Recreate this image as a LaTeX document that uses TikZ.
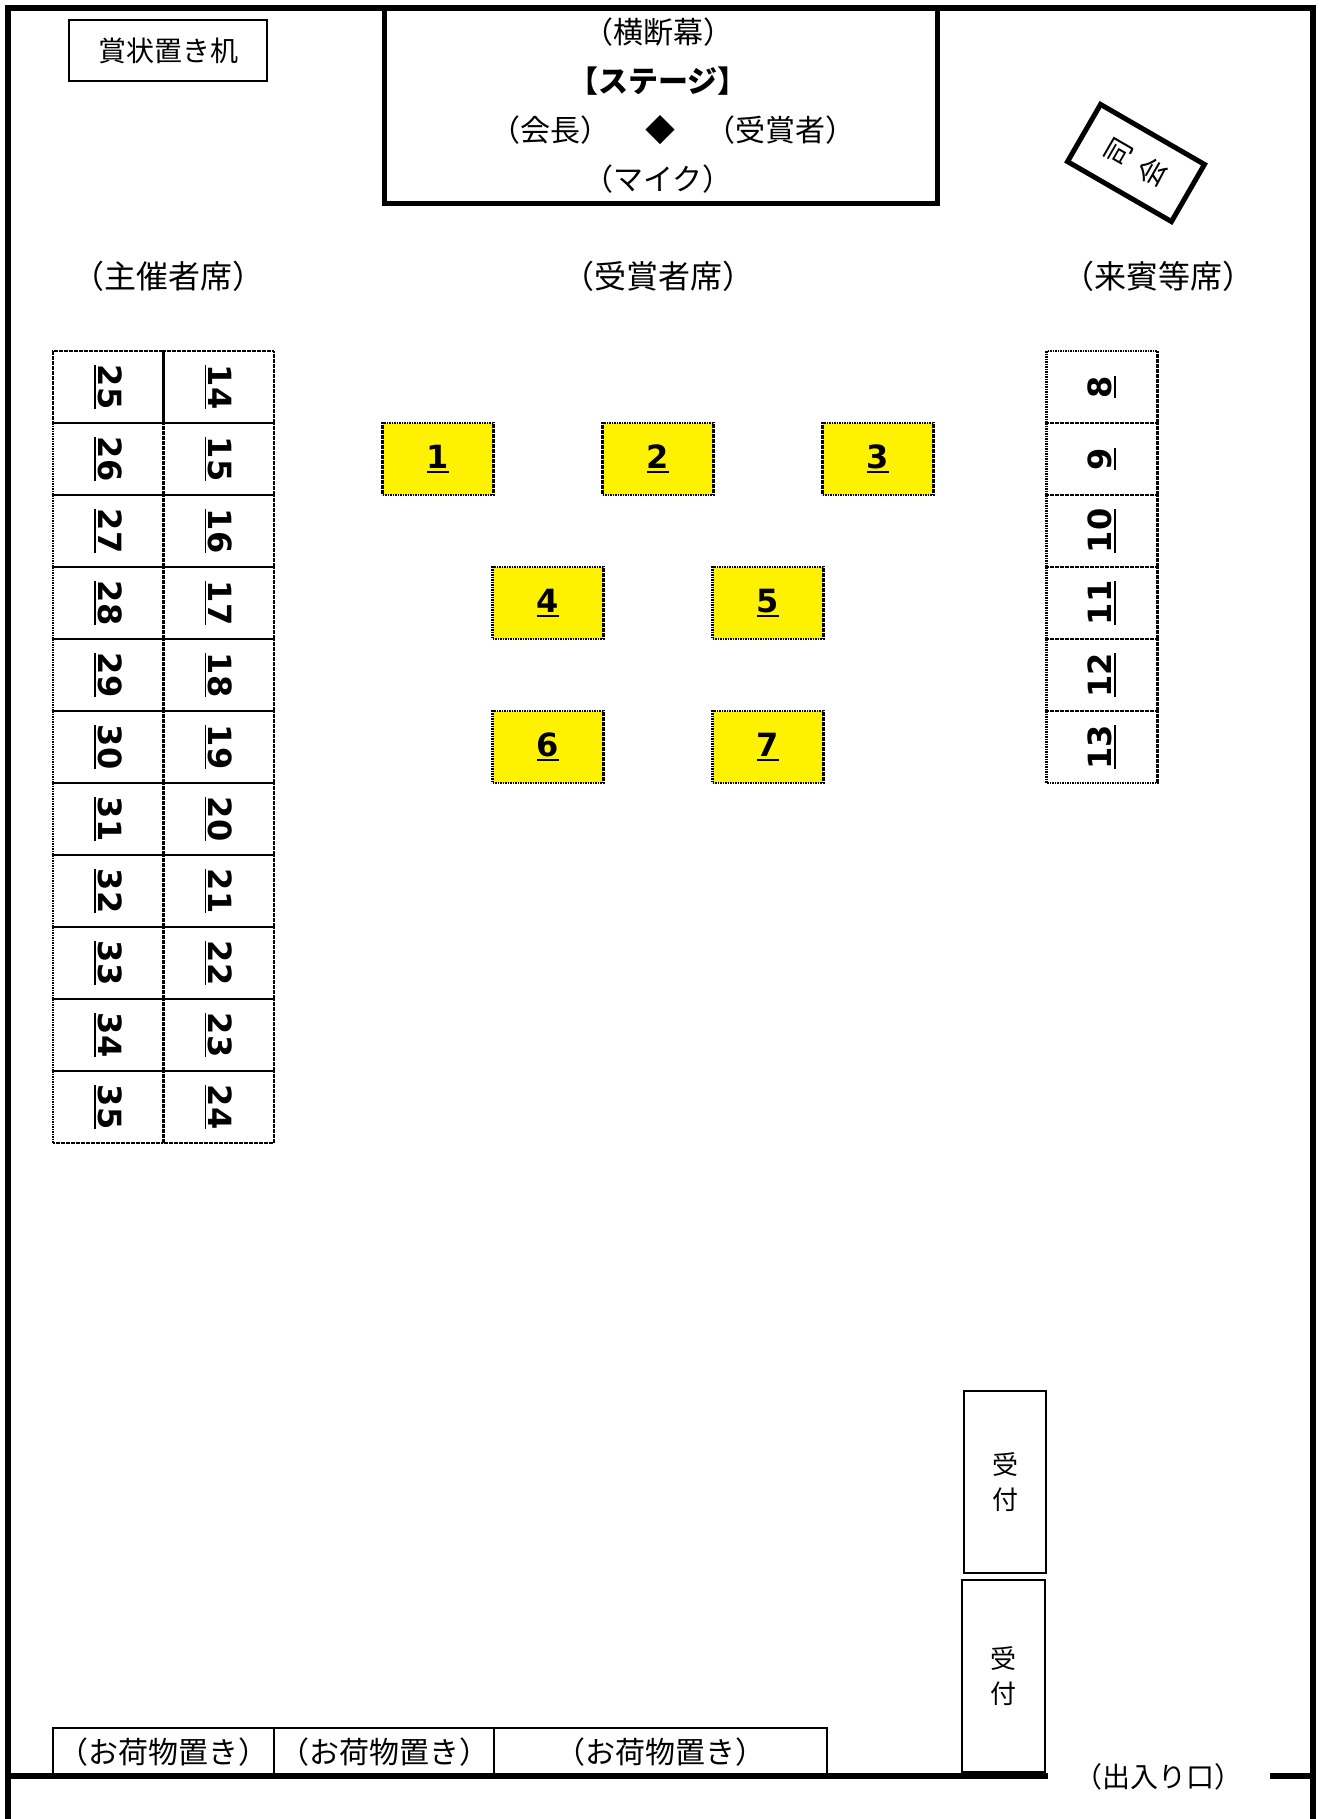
\documentclass[tikz,border=0pt]{standalone}
\usepackage{fontspec}
\setmainfont{Noto Sans CJK JP}
\newfontfamily\numf{DejaVu Sans}
\newcommand\ulg[1]{\sbox0{#1}\rlap{\rule[-1.9pt]{\wd0}{0.65pt}}\usebox0}
\newcommand\uly[1]{\sbox0{#1}\rlap{\rule[-2.3pt]{\wd0}{1pt}}\usebox0}
\begin{document}
\begin{tikzpicture}[x=0.5pt,y=-0.5pt,
  wall/.style={line width=3pt},
  seatbox/.style={draw, line width=1.4pt, dash pattern=on 0.8pt off 0.45pt, inner sep=0pt, outer sep=0pt, font=\numf\bfseries\fontsize{16}{16}\selectfont},
  gseatL/.style={seatbox, rotate=-90, minimum width=36pt, minimum height=55.25pt},
  gseatR/.style={seatbox, rotate=90, minimum width=36pt, minimum height=55.25pt},
  yseat/.style={seatbox, fill=yellow, minimum width=55.25pt, minimum height=36pt},
  lbl/.style={inner sep=0pt, font=\fontsize{15}{18}\selectfont},
  sect/.style={inner sep=0pt, font=\fontsize{16}{18}\selectfont},
  thinbox/.style={draw, line width=1.25pt, inner sep=0pt, outer sep=0pt},
]
\useasboundingbox (0,0) rectangle (1319,1819);

% stage
\node[draw, line width=2.5pt, minimum width=276.25pt, minimum height=97.75pt, inner sep=0pt, outer sep=0pt] (stage) at (660.75,105.75) {};
\node[lbl] (banner) at (658,32) {（横断幕）};
\node[lbl, font=\bfseries\fontsize{15}{18}\selectfont] (stagettl) at (658,81) {【ステージ】};
\node[lbl] (chair) at (550,130) {（会長）};
\node[lbl] (dia) at (660,130) {◆};
\node[lbl] (winner) at (780,130) {（受賞者）};
\node[lbl] (mic) at (658,179) {（マイク）};

% desk
\node[draw, line width=0.75pt, minimum width=99pt, minimum height=30.5pt, inner sep=0pt, outer sep=0pt, font=\fontsize{14}{16}\selectfont] (desk) at (168,50.5) {賞状置き机};

% MC
\node[draw, line width=2.5pt, rotate=60, minimum width=33pt, minimum height=60pt, inner sep=0pt, align=center, font=\fontsize{14}{20}\selectfont] (mc) at (1136,163) {司\\会};

% section labels
\node[sect] (host) at (168,276) {（主催者席）};
\node[sect] (award) at (658,276) {（受賞者席）};
\node[sect] (guest) at (1158,276) {（来賓等席）};

% organiser seats
\foreach \n [count=\i from 0] in {25,26,...,35}
  \node[gseatL] (s\n) at (108.25,{387+72*\i}) {\ulg{\n}};
\foreach \n [count=\i from 0] in {14,15,...,24}
  \node[gseatL] (s\n) at (218.75,{387+72*\i}) {\ulg{\n}};
% guest seats
\foreach \n [count=\i from 0] in {8,9,...,13}
  \node[gseatR] (s\n) at (1102,{387+72*\i}) {\ulg{\n}};

% award seats
\node[yseat] (s1) at (438,459) {\uly{1}};
\node[yseat] (s2) at (658,459) {\uly{2}};
\node[yseat] (s3) at (878,459) {\uly{3}};
\node[yseat] (s4) at (548,603) {\uly{4}};
\node[yseat] (s5) at (768,603) {\uly{5}};
\node[yseat] (s6) at (548,747) {\uly{6}};
\node[yseat] (s7) at (768,747) {\uly{7}};

% reception
\node[thinbox, minimum width=41pt, minimum height=91pt, align=center, font=\fontsize{13}{17.5}\selectfont] (rec1) at (1005,1482) {受\\付};
\node[thinbox, minimum width=41.5pt, minimum height=96pt, align=center, font=\fontsize{13}{17.5}\selectfont] (rec2) at (1003.5,1676) {受\\付};

% luggage
\node[thinbox, minimum width=110.5pt, minimum height=24pt, font=\fontsize{15}{17}\selectfont] (lug1) at (163.5,1752) {（お荷物置き）};
\node[thinbox, minimum width=110pt, minimum height=24pt, font=\fontsize{15}{17}\selectfont] (lug2) at (384,1752) {（お荷物置き）};
\node[thinbox, minimum width=166.5pt, minimum height=24pt, font=\fontsize{15}{17}\selectfont] (lug3) at (660.5,1752) {（お荷物置き）};

% entrance
\node[inner sep=0pt, font=\fontsize{14}{16}\selectfont] (door) at (1158,1777) {（出入り口）};

% walls
\coordinate (wlb) at (7.5,1819);
\coordinate (wlt) at (7.5,8);
\coordinate (wrt) at (1312.5,8);
\coordinate (wrb) at (1312.5,1819);
\coordinate (bl) at (7.5,1776);
\coordinate (bd1) at (1048,1776);
\coordinate (bd2) at (1270,1776);
\coordinate (br) at (1312.5,1776);
\draw[wall, line join=miter] (wlb) -- (wlt) -- (wrt) -- (wrb);
\draw[wall] (bl) -- (bd1);
\draw[wall] (bd2) -- (br);
\end{tikzpicture}
\end{document}
